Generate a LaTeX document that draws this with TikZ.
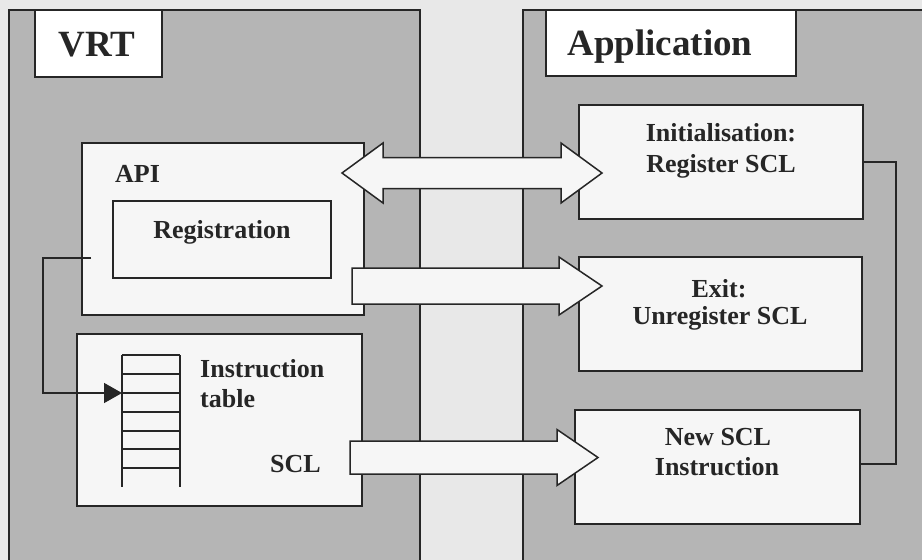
\documentclass[tikz,border=0pt]{standalone}
\usepackage{fontspec}
\setmainfont{Liberation Serif}
\usetikzlibrary{calc,arrows.meta}

\definecolor{pagebg}{gray}{0.91}
\definecolor{panelgray}{gray}{0.71}
\definecolor{boxfill}{gray}{0.965}
\definecolor{ink}{gray}{0.15}

\tikzset{
  panel/.style={draw=ink, line width=1.5pt, fill=panelgray},
  box/.style={draw=ink, line width=1.5pt, fill=boxfill, inner sep=0pt, outer sep=0pt},
  titletext/.style={font=\fontsize{37}{40}\selectfont\bfseries, text=ink, inner sep=0pt},
  lbl/.style={font=\fontsize{26}{30}\selectfont\bfseries, text=ink, inner sep=0pt},
  wire/.style={draw=ink, line width=1.5pt},
  tabline/.style={draw=ink, line width=1.3pt},
  bigarrow/.style={draw=ink, line width=1.5pt, fill=boxfill, line join=miter},
}

% fat single arrow: tail, tip, shaft half width, head half width, head length
\newcommand\fatarrow[5]{%
  \draw[bigarrow] ($(#1)+(0,-#3)$) -- ($(#2)+(-#5,-#3)$) -- ($(#2)+(-#5,-#4)$)
    -- (#2) -- ($(#2)+(-#5,#4)$) -- ($(#2)+(-#5,#3)$) -- ($(#1)+(0,#3)$) -- cycle;}
% fat double arrow: left tip, right tip, shaft half width, head half width, head length
\newcommand\fatdarrow[5]{%
  \draw[bigarrow] (#1) -- ($(#1)+(#5,-#4)$) -- ($(#1)+(#5,-#3)$)
    -- ($(#2)+(-#5,-#3)$) -- ($(#2)+(-#5,-#4)$) -- (#2)
    -- ($(#2)+(-#5,#4)$) -- ($(#2)+(-#5,#3)$)
    -- ($(#1)+(#5,#3)$) -- ($(#1)+(#5,#4)$) -- cycle;}

\begin{document}
\begin{tikzpicture}[x=1pt,y=-1pt]
  \useasboundingbox (0,0) rectangle (922,560);
  \clip (0,0) rectangle (922,560);
  \fill[pagebg] (0,0) rectangle (922,560);

  % the two layers
  \draw[panel] (9,10) rectangle (420,580);
  \draw[panel] (523,10) rectangle (940,580);

  % layer titles
  \node[box, fill=white, minimum width=127pt, minimum height=67pt] (vrtlabel) at (98.5,43.5) {};
  \node[titletext, anchor=base] (vrttext) at (97,56.5) {VRT};
  \node[box, fill=white, minimum width=250pt, minimum height=66pt] (applabel) at (671,43) {};
  \node[titletext, anchor=base] (apptext) at (660,55) {Application};

  % VRT side
  \node[box, minimum width=282pt, minimum height=172pt] (api) at (223,229) {};
  \node[lbl, anchor=base west] (apitext) at (115,182) {API};
  \node[box, minimum width=218pt, minimum height=77pt] (reg) at (222,239.5) {};
  \node[lbl, anchor=base] (regtext) at (222,238) {Registration};

  \node[box, minimum width=285pt, minimum height=172pt] (scl) at (219.5,420) {};
  \node[lbl, anchor=base west] (insttext) at (200,377) {Instruction};
  \node[lbl, anchor=base west] (tabtext) at (200,407) {table};
  \node[lbl, anchor=base west] (scltext) at (270,472) {SCL};

  % instruction table
  \draw[tabline] (122,355) -- (122,487);
  \draw[tabline] (180,355) -- (180,487);
  \foreach \r in {355,374,393,412,431,449,468}
    \draw[tabline] (122,\r) -- (180,\r);
  \coordinate (tabin) at (122,393);

  % Application side
  \node[box, minimum width=284pt, minimum height=114pt] (init) at (721,162) {};
  \node[lbl, anchor=base] (inittext1) at (721,141) {Initialisation:};
  \node[lbl, anchor=base] (inittext2) at (721,172) {Register SCL};

  \node[box, minimum width=283pt, minimum height=114pt] (exit) at (720.5,314) {};
  \node[lbl, anchor=base] (exittext1) at (719,297) {Exit:};
  \node[lbl, anchor=base] (exittext2) at (720,324) {Unregister SCL};

  \node[box, minimum width=285pt, minimum height=114pt] (newscl) at (717.5,467) {};
  \node[lbl, anchor=base] (newtext1) at (718,445) {New SCL};
  \node[lbl, anchor=base] (newtext2) at (717,475) {Instruction};

  % registration feeds the instruction table
  \coordinate (regtap) at (91,258);
  \draw[wire, -{Triangle[length=18pt,width=20pt]}]
    (regtap) -- ($(regtap)+(-48,0)$) |- (tabin);

  % application calls bracket
  \draw[wire] (init.east) -- ++(33,0) |- ($(newscl.east)+(0,-3)$);

  % interface arrows between the layers
  \coordinate (a1l) at (342,173);
  \coordinate (a1r) at (602,173);
  \fatdarrow{a1l}{a1r}{15.5}{30}{41}

  \coordinate (a2t) at (352,286);
  \coordinate (a2h) at (602,286);
  \fatarrow{a2t}{a2h}{18}{29}{43}

  \coordinate (a3t) at (350,457.5);
  \coordinate (a3h) at (598,457.5);
  \fatarrow{a3t}{a3h}{16.5}{28}{41}
\end{tikzpicture}
\end{document}
